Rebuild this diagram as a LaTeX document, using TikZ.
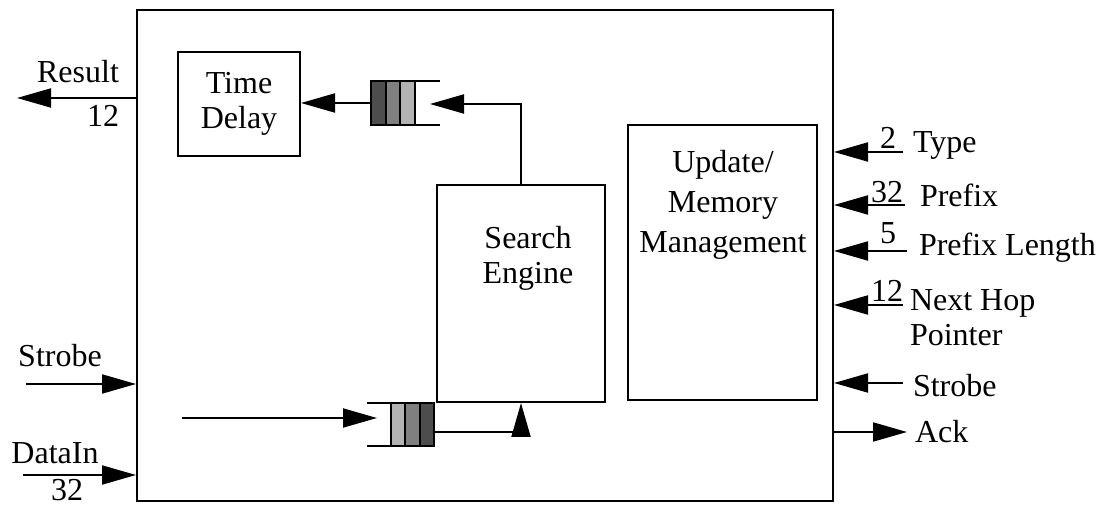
\documentclass[tikz,border=0pt]{standalone}
\usepackage{fontspec}
\setmainfont{Liberation Serif}
\usetikzlibrary{arrows.meta}

\definecolor{qdark}{HTML}{4D4D4D}
\definecolor{qmid}{HTML}{808080}
\definecolor{qlight}{HTML}{B3B3B3}

\tikzset{
  blk/.style={draw, line width=1pt, inner sep=0pt, align=center},
  sig/.style={line width=1pt, -{Triangle[length=17pt,width=9.5pt]}},
  lbl/.style={inner sep=0pt, anchor=base west},
  num/.style={inner sep=0pt, anchor=base},
}

\begin{document}
\begin{tikzpicture}[x=0.5pt, y=-0.5pt, line width=1pt, line cap=butt,
    font=\fontsize{16}{17.5}\selectfont]
  \useasboundingbox (0,0) rectangle (1106,506);
  % The chip outline and the three blocks inside it.
  \node[blk, minimum width=348pt, minimum height=245.5pt] (chip) at (485,255.5) {};
  \node[blk, minimum width=61pt, minimum height=52pt] (delay) at (239,104) {Time\\Delay};
  \node[blk, minimum width=84pt, minimum height=108.5pt] (search) at (521,293.5) {};
  \node[align=center, inner sep=0pt] (searchtxt) at (528,258) {Search\\Engine};
  \node[blk, minimum width=94.5pt, minimum height=137.5pt] (mem) at (722.5,262.5) {};
  \node[align=center, inner sep=0pt, font=\fontsize{16}{20}\selectfont] (memtxt) at (723,205) {Update/\\Memory\\Management};
  % Output queue: cells fill from the right, leave on the left.
  \filldraw[fill=qdark] (371,81) rectangle (386,125);
  \filldraw[fill=qmid] (386,81) rectangle (400,125);
  \filldraw[fill=qlight] (400,81) rectangle (415,125);
  \draw (415,81) -- (440,81) (415,125) -- (440,125);
  \coordinate (q1out) at (371,103);
  \coordinate (q1in) at (430,104);
  \draw[sig] (q1out) -- (q1out -| delay.east);
  \draw[sig] (search.north) |- (q1in);
  % Input queue feeding the search engine.
  \draw (367,403) -- (391,403) (367,446) -- (391,446);
  \filldraw[fill=qlight] (391,403) rectangle (405,446);
  \filldraw[fill=qmid] (405,403) rectangle (420,446);
  \filldraw[fill=qdark] (420,403) rectangle (434,446);
  \coordinate (feed) at (182,418);
  \coordinate (q2in) at (377,418);
  \coordinate (q2out) at (434,432);
  \draw[sig] (feed) -- (q2in);
  \draw[sig] (q2out) -| (search.south);
  % Left side pins.
  \coordinate (result) at (17,98);
  \draw[sig] (result -| chip.west) -- (result);
  \node[num] (resultlbl) at (78,83) {Result};
  \node[inner sep=0pt, anchor=base east] (resultw) at (120,127) {12};
  \coordinate (strobeL) at (26,384);
  \draw[sig] (strobeL) -- (strobeL -| chip.west);
  \node[num] (strobeLlbl) at (60,367) {Strobe};
  \coordinate (datain) at (23,475);
  \draw[sig] (datain) -- (datain -| chip.west);
  \node[num] (datalbl) at (55,464) {DataIn};
  \node[num] (dataw) at (67,501) {32};
  % Right side pins.
  \coordinate (type) at (903,152);
  \draw[sig] (type) -- (type -| chip.east);
  \node[num] (typew) at (888,149) {2};
  \node[lbl] (typelbl) at (912,153) {Type};
  \coordinate (prefix) at (905,205);
  \draw[sig] (prefix) -- (prefix -| chip.east);
  \node[num] (prefixw) at (887,203) {32};
  \node[lbl] (prefixlbl) at (919,207) {Prefix};
  \coordinate (plen) at (907,251);
  \draw[sig] (plen) -- (plen -| chip.east);
  \node[num] (plenw) at (888,244) {5};
  \node[lbl] (plenlbl) at (918,256) {Prefix Length};
  \coordinate (nhop) at (903,305);
  \draw[sig] (nhop) -- (nhop -| chip.east);
  \node[num] (nhopw) at (887,302) {12};
  \node[inner sep=0pt, anchor=west, align=left] (nhoplbl) at (909,318) {Next Hop\\Pointer};
  \coordinate (strobeR) at (903,383);
  \draw[sig] (strobeR) -- (strobeR -| chip.east);
  \node[lbl] (strobeRlbl) at (912,397) {Strobe};
  \coordinate (ack) at (907,432);
  \draw[sig] (ack -| chip.east) -- (ack);
  \node[lbl] (acklbl) at (914,443) {Ack};
\end{tikzpicture}
\end{document}
